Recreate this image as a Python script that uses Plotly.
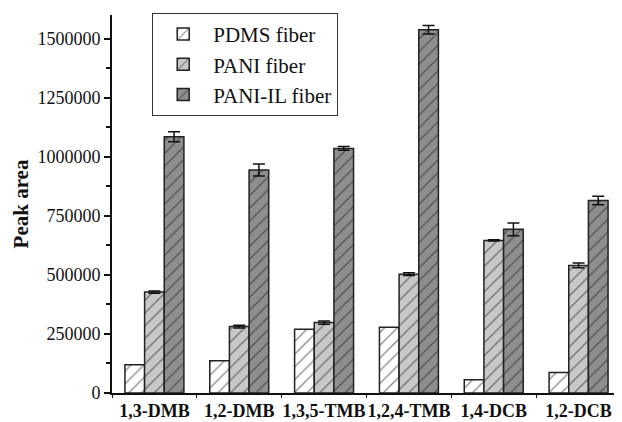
import plotly.graph_objects as go

categories = ["1,3-DMB", "1,2-DMB", "1,3,5-TMB", "1,2,4-TMB", "1,4-DCB", "1,2-DCB"]
pdms = [120000, 136000, 270000, 278000, 56000, 87000]
pani = [427000, 281000, 298000, 503000, 646000, 540000]
pani_err = [5000, 6000, 7000, 6000, 3000, 10000]
pani_il = [1085000, 944000, 1035000, 1538000, 693000, 815000]
pani_il_err = [21000, 25000, 8000, 18000, 27000, 18000]

series_names = ["PDMS fiber", "PANI fiber", "PANI-IL fiber"]
fills = ["#ffffff", "#c8c8c8", "#8e8e8e"]

serif = "Liberation Serif"

fig = go.Figure()
data = [(pdms, None), (pani, pani_err), (pani_il, pani_il_err)]
for (vals, err), name, col in zip(data, series_names, fills):
    fig.add_trace(go.Bar(
        x=categories, y=vals, name=name,
        marker=dict(color=col, line=dict(color="#222222", width=1.5),
                    pattern=dict(shape="/", fgcolor="#1a1a1a", bgcolor=col,
                                 size=9, solidity=0.15, fillmode="overlay")),
        error_y=dict(type="data", array=err, visible=err is not None,
                     color="#111111", thickness=1.5, width=6),
    ))

# page body has an 8px default margin: offsets below compensate for it
fig.update_layout(
    width=622, height=422,
    margin=dict(l=104, r=9, t=6, b=37),
    paper_bgcolor="white", plot_bgcolor="white",
    barmode="group", bargap=0.305, bargroupgap=0,
    font=dict(family=serif, size=18, color="#111111"),
    showlegend=True,
    legend=dict(x=0.079, y=1.003, xanchor="left", yanchor="top",
                bordercolor="#333333", borderwidth=1, bgcolor="white",
                font=dict(family=serif, size=21, color="#111111"),
                tracegroupgap=0, itemwidth=50),
    xaxis=dict(showline=True, linecolor="#111111", linewidth=2,
               ticks="outside", ticklen=3, tickcolor="#111111",
               tickson="boundaries", showgrid=False, tickangle=0, automargin=False,
               tickfont=dict(family=serif, size=18, color="#111111", weight="bold")),
    yaxis=dict(range=[0, 1600000], showline=True, linecolor="#111111", linewidth=2,
               ticks="outside", ticklen=6, tickcolor="#111111", tickwidth=1.5,
               automargin=False,
               tickvals=[0, 250000, 500000, 750000, 1000000, 1250000, 1500000],
               ticktext=["0", "250000", "500000", "750000", "1000000", "1250000", "1500000"],
               minor=dict(tickvals=[125000, 375000, 625000, 875000, 1125000, 1375000],
                          ticks="outside", ticklen=4, tickcolor="#111111", tickwidth=1.5),
               showgrid=False, zeroline=False,
               tickfont=dict(family=serif, size=18, color="#111111"),
               title=dict(text="<b>Peak area</b>", standoff=3,
                          font=dict(family=serif, size=21, color="#111111"))),
)

fig.write_html("out.html")
